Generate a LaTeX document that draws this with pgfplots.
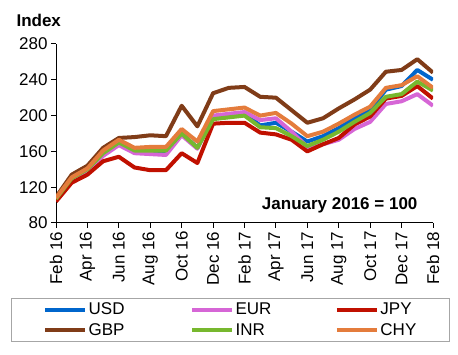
\documentclass[border=0pt]{standalone}
\usepackage{fontspec}
\setmainfont{Liberation Sans}
\usepackage{pgfplots}
\pgfplotsset{compat=1.18}
\definecolor{cUSD}{RGB}{0,102,204}
\definecolor{cEUR}{RGB}{214,102,214}
\definecolor{cJPY}{RGB}{192,16,0}
\definecolor{cGBP}{RGB}{128,60,24}
\definecolor{cINR}{RGB}{119,184,46}
\definecolor{cCHY}{RGB}{228,124,60}
\pgfplotstableread{
i USD EUR JPY GBP INR CHY
0 107 107 104 109 107 108
1 130 129 125 134 130 131
2 140 138 134 144 140 141
3 158 155 149 164 158 161
4 170 167 154 175 170 173
5 161 158 142 176 161 164
6 160 157 139 178 161 165
7 160 156 139 177 161 165
8 180 178 158 211 180 185
9 164 163 147 188 164 171
10 197 200 191 225 196 205
11 199 202 192 231 198 207
12 202 204 192 232 200 209
13 189 195 181 221 187 200
14 192 197 179 220 186 203
15 182 182 173 206 177 191
16 171 165 160 192 166 177
17 177 168 168 197 173 182
18 186 173 175 208 182 191
19 197 185 190 218 193 201
20 206 193 199 229 203 210
21 229 213 219 249 221 231
22 233 216 222 251 224 234
23 251 224 233 263 238 244
24 240 211 219 248 228 231
}\data
\begin{document}
\begin{tikzpicture}[font=\fontsize{17}{20}\selectfont]
\useasboundingbox (-56pt,-132pt) rectangle (402pt,223pt);
\begin{axis}[
  name=ax, at={(0,0)}, anchor=south west,
  scale only axis, width=377pt, height=179pt,
  xmin=0, xmax=24, ymin=80, ymax=280,
  axis lines=left, axis line style={-, line width=1pt},
  tick align=outside, major tick length=5pt,
  tick style={line width=1pt, black},
  xtick={0,2,...,24},
  xticklabels={Feb 16,Apr 16,Jun 16,Aug 16,Oct 16,Dec 16,Feb 17,Apr 17,Jun 17,Aug 17,Oct 17,Dec 17,Feb 18},
  xticklabel style={rotate=90, anchor=east},
  ytick={80,120,...,280},
  /pgf/number format/assume math mode=true,
  tick label style={font=\fontsize{17}{20}\selectfont},
  every axis plot/.append style={line width=4pt, line join=round, no marks},
  legend columns=3,
  legend image code/.code={\draw[#1, line width=4pt] (0pt,0pt) -- (40pt,0pt);},
  legend style={at={(rel axis cs:0.4629,-0.419)}, anchor=north, draw=black!35, line width=0.8pt,
    inner xsep=32pt, inner ysep=1pt, nodes={inner xsep=1.5pt, inner ysep=3.5pt},
    font=\fontsize{17}{20}\selectfont, row sep=0pt,
    /tikz/column 2/.append style={column sep=64pt},
    /tikz/column 4/.append style={column sep=62pt}},
  legend cell align=left,
]
\addplot[cUSD] table[x=i, y=USD] {\data}; \addlegendentry{USD}
\addplot[cEUR] table[x=i, y=EUR] {\data}; \addlegendentry{EUR}
\addplot[cJPY] table[x=i, y=JPY] {\data}; \addlegendentry{JPY}
\addplot[cGBP] table[x=i, y=GBP] {\data}; \addlegendentry{GBP}
\addplot[cINR] table[x=i, y=INR] {\data}; \addlegendentry{INR}
\addplot[cCHY] table[x=i, y=CHY] {\data}; \addlegendentry{CHY}
\end{axis}
\node[anchor=base west, font=\fontsize{17}{20}\selectfont\bfseries] at (-43pt,196pt) {Index};
\node[anchor=base east, font=\fontsize{17}{20}\selectfont\bfseries] at (365pt,13pt) {January 2016 = 100};
\end{tikzpicture}
\end{document}
